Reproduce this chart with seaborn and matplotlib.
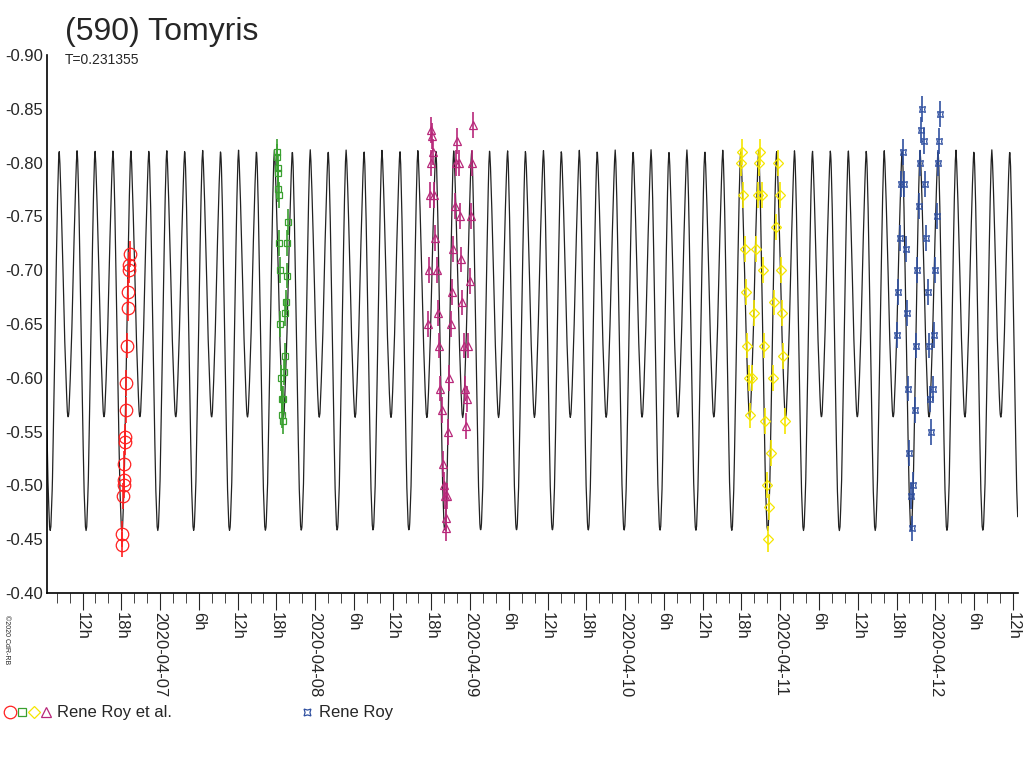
import numpy as np
import matplotlib
matplotlib.use("Agg")
import matplotlib.pyplot as plt
import matplotlib.dates as mdates
import seaborn as sns
import pandas as pd

sns.set_style("white")
plt.rcParams['font.family'] = ['Liberation Sans', 'DejaVu Sans']

# model lightcurve: one period (0.231355 d), shape
period_d = 0.231355
epoch_h = -5.9  # deep minimum, hours from 2020-04-07 00:00
shape_phase = [0.0, 0.02, 0.06, 0.10, 0.15, 0.20, 0.23, 0.25, 0.27, 0.30, 0.35, 0.40, 0.45, 0.48, 0.5,
               0.52, 0.55, 0.60, 0.65, 0.70, 0.73, 0.75, 0.77, 0.80, 0.85, 0.90, 0.94, 0.98, 1.0]
shape_mag = [-0.458, -0.462, -0.50, -0.57, -0.67, -0.76, -0.80, -0.812, -0.80, -0.77, -0.71, -0.64, -0.59, -0.567, -0.563,
             -0.567, -0.59, -0.64, -0.71, -0.77, -0.80, -0.812, -0.80, -0.76, -0.67, -0.57, -0.50, -0.462, -0.458]

# observations: hours from 2020-04-07 00:00, magnitude
red_h = [-5.9, -5.85, -5.7, -5.65, -5.6, -5.55, -5.45, -5.4, -5.3, -5.2, -5.1, -5.0, -4.9, -4.8, -4.75, -4.7]
red_m = [-0.445, -0.455, -0.49, -0.50, -0.505, -0.52, -0.54, -0.545, -0.57, -0.595, -0.63, -0.665, -0.68, -0.70, -0.705, -0.715]

green_h = [18.1, 18.15, 18.2, 18.25, 18.3, 18.35, 18.45, 18.5, 18.6, 18.7, 18.8, 18.9, 19.0, 19.1, 19.2, 19.3, 19.4, 19.5, 19.6, 19.7, 19.8]
green_m = [-0.81, -0.805, -0.795, -0.79, -0.775, -0.77, -0.725, -0.70, -0.65, -0.60, -0.58, -0.565, -0.56, -0.58, -0.605, -0.62, -0.66, -0.67, -0.695, -0.725, -0.745]

mag_h = [41.5, 41.6, 41.8, 41.9, 42.0, 42.1, 42.2, 42.4, 42.6, 42.8, 43.0, 43.2, 43.4, 43.6, 43.8, 44.0, 44.1, 44.2, 44.3,
         44.4, 44.6, 44.8, 45.0, 45.2, 45.4, 45.6, 45.8, 46.0, 46.2, 46.4, 46.6, 46.8, 47.0, 47.2, 47.4,
         47.5, 47.7, 47.9, 48.1, 48.3, 48.5]
mag_m = [-0.65, -0.70, -0.77, -0.80, -0.83, -0.825, -0.81, -0.77, -0.73, -0.70, -0.66, -0.63, -0.59, -0.57, -0.52, -0.50, -0.49, -0.47, -0.46,
         -0.49, -0.55, -0.60, -0.65, -0.68, -0.72, -0.76, -0.80, -0.82, -0.80, -0.75, -0.71, -0.67, -0.63, -0.59, -0.555,
         -0.58, -0.63, -0.69, -0.75, -0.80, -0.835]

yel_h = [90.0, 90.1, 90.3, 90.5, 90.7, 90.9, 91.1, 91.35, 91.6, 91.9, 92.2, 92.5, 92.7, 92.9, 93.1, 93.3, 93.5, 93.7, 93.9, 94.1,
         94.3, 94.5, 94.8, 95.1, 95.4, 95.7, 95.9, 96.1, 96.3, 96.5, 96.8]
yel_m = [-0.80, -0.81, -0.77, -0.72, -0.68, -0.63, -0.60, -0.565, -0.60, -0.66, -0.72, -0.77, -0.80, -0.81, -0.77, -0.70, -0.63, -0.56, -0.50, -0.45,
         -0.48, -0.53, -0.60, -0.67, -0.74, -0.80, -0.77, -0.70, -0.66, -0.62, -0.56]

blue_h = [114.1, 114.3, 114.5, 114.7, 115.0, 115.2, 115.4, 115.6, 115.8, 116.0, 116.2, 116.4,
          116.6, 116.8, 117.0, 117.2, 117.4, 117.6, 117.8, 118.0,
          118.2, 118.4, 118.6, 118.8, 119.0, 119.2, 119.4, 119.6, 119.8, 120.0, 120.2, 120.4, 120.6, 120.8]
blue_m = [-0.64, -0.68, -0.73, -0.78, -0.81, -0.78, -0.72, -0.66, -0.59, -0.53, -0.49, -0.46,
          -0.50, -0.57, -0.63, -0.70, -0.76, -0.80, -0.83, -0.85,
          -0.82, -0.78, -0.73, -0.68, -0.63, -0.58, -0.55, -0.59, -0.64, -0.70, -0.75, -0.80, -0.82, -0.845]

t0 = pd.Timestamp("2020-04-07")
xmin = t0 - pd.Timedelta(hours=17.5)
xmax = t0 + pd.Timedelta(hours=132.8)

def to_dates(hours):
    return mdates.date2num(t0 + pd.to_timedelta(np.asarray(hours), unit="h"))

fig = plt.figure(figsize=(10.24, 7.68), dpi=100)
ax = fig.add_axes([47 / 1024, 175 / 768, 971 / 1024, 538 / 768])

# model curve
hh = np.arange(-17.5, 132.8, 0.05)
ph = ((hh - epoch_h) / (period_d * 24)) % 1.0
model = np.interp(ph, shape_phase, shape_mag)
ax.plot(to_dates(hh), model, color="#222222", lw=0.9, zorder=1)

sessions = [
    (red_h, red_m, "#ff2020", "o", 9),
    (green_h, green_m, "#3aa030", "s", 5),
    (yel_h, yel_m, "#f5e600", "D", 5),
    (mag_h, mag_m, "#b8287a", "^", 6),
    (blue_h, blue_m, "#3050a0", (4, 1, 45), 6),
]
for h, m, c, mk, ms in sessions:
    ax.errorbar(to_dates(h), m, yerr=0.012, fmt="none", ecolor=c, elinewidth=1.2, zorder=2)
    ax.plot(to_dates(h), m, linestyle="none", marker=mk, ms=ms, mfc="none", mec=c, mew=0.9, zorder=3)

ax.set_xlim(mdates.date2num(xmin), mdates.date2num(xmax))
ax.set_ylim(-0.40, -0.90)
ax.set_yticks(np.arange(-0.90, -0.399, 0.05))
ax.set_yticklabels(["%.2f" % v for v in np.arange(-0.90, -0.399, 0.05)], fontsize=12)

major = pd.date_range("2020-04-06 12:00", "2020-04-12 12:00", freq="6h")
labels = []
for d in major:
    labels.append(d.strftime("%Y-%m-%d") if d.hour == 0 else "%dh" % d.hour)
ax.set_xticks(mdates.date2num(major))
ax.set_xticklabels(labels, rotation=270, fontsize=12, va="top", ha="center")
ax.set_xticks(mdates.date2num(pd.date_range("2020-04-06 08:00", "2020-04-12 12:00", freq="2h")), minor=True)
ax.tick_params(axis="x", which="major", direction="out", length=12, pad=2, bottom=True)
ax.tick_params(axis="x", which="minor", direction="out", length=7, bottom=True)
ax.tick_params(axis="y", which="major", direction="out", length=0, left=True, pad=3)

for s in ["top", "right"]:
    ax.spines[s].set_visible(False)
for s in ["left", "bottom"]:
    ax.spines[s].set_color("black")
    ax.spines[s].set_linewidth(1.2)

fig.text(65 / 1024, 1 - 32 / 768, "(590) Tomyris", fontsize=23, va="center", ha="left")
fig.text(65 / 1024, 1 - 60 / 768, "T=0.231355", fontsize=10, va="center", ha="left")
fig.text(3 / 1024, 1 - 640 / 768, "©2020 CdR-RB", fontsize=5, rotation=270, va="center", ha="left")

# legend
ly = 1 - 712 / 768
for i, (c, mk, ms) in enumerate([("#ff2020", "o", 9), ("#3aa030", "s", 6), ("#f5e600", "D", 6), ("#b8287a", "^", 7)]):
    fig.lines.append(plt.Line2D([(10 + 12 * i) / 1024], [ly], marker=mk, ms=ms, mfc="none", mec=c, mew=0.9,
                                transform=fig.transFigure, linestyle="none"))
fig.text(57 / 1024, ly, "Rene Roy et al.", fontsize=12, va="center")
fig.lines.append(plt.Line2D([307 / 1024], [ly], marker=(4, 1, 45), ms=7, mfc="none", mec="#3050a0", mew=0.9,
                            transform=fig.transFigure, linestyle="none"))
fig.text(319 / 1024, ly, "Rene Roy", fontsize=12, va="center")

fig.savefig("out.png", dpi=100)
